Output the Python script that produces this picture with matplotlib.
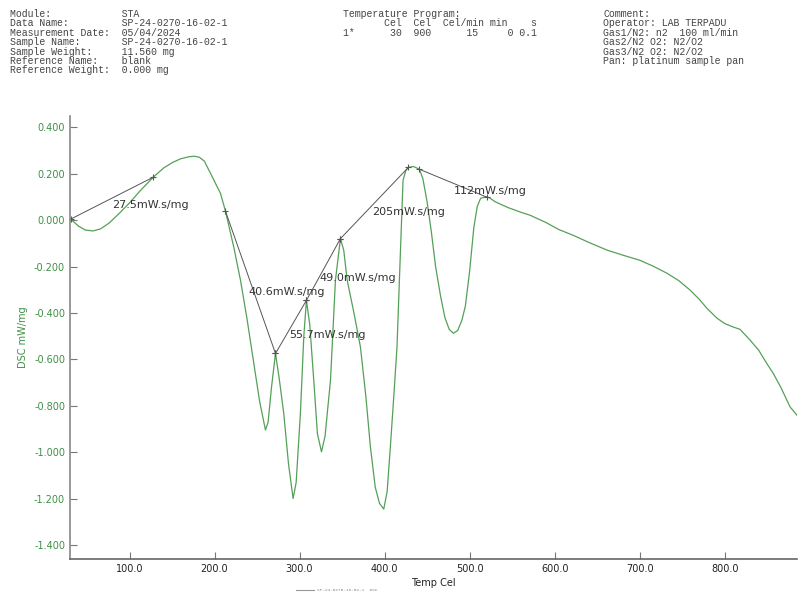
import matplotlib
matplotlib.use("Agg")
from matplotlib import pyplot as plt
from matplotlib.lines import Line2D

# DSC curve (Temp Cel, mW/mg)
temp = [30.8, 40, 48, 57, 66, 76, 88, 100, 112, 128, 140, 150, 160, 170, 176,
        182, 188, 195.6, 201, 207, 212.9, 222.6, 230.5, 238, 246.2, 253, 259.9,
        263, 267, 271.7, 276, 281.4, 287, 292.4, 296, 301, 305, 308.1, 312,
        316.7, 321, 325.8, 330, 336.4, 342.2, 348.1, 352, 356, 364, 371.6, 378,
        383.3, 389, 394, 399, 403, 406.8, 411, 414.6, 418, 421.7, 425, 428, 434,
        440.9, 445, 450, 455, 460, 466, 471, 476, 481, 486, 491, 495, 500, 505,
        509, 513, 518, 523, 530, 545, 560, 571, 590, 605, 622, 640, 662, 680,
        700, 716, 732, 746, 759, 770, 779, 791, 800, 810, 818, 830, 840, 850,
        857, 866, 877, 885]
dsc = [0.005, -0.025, -0.042, -0.046, -0.037, -0.012, 0.03, 0.075, 0.125, 0.186,
       0.225, 0.248, 0.265, 0.274, 0.276, 0.272, 0.255, 0.2, 0.16, 0.116, 0.039,
       -0.115, -0.258, -0.42, -0.617, -0.78, -0.904, -0.87, -0.72, -0.574,
       -0.68, -0.832, -1.05, -1.199, -1.13, -0.832, -0.5, -0.345, -0.45,
       -0.689, -0.92, -0.998, -0.93, -0.689, -0.258, -0.079, -0.13, -0.258,
       -0.4, -0.546, -0.76, -0.976, -1.15, -1.22, -1.245, -1.17, -0.976,
       -0.75, -0.546, -0.2, 0.172, 0.215, 0.228, 0.232, 0.22, 0.18, 0.08,
       -0.05, -0.2, -0.33, -0.42, -0.47, -0.487, -0.475, -0.43, -0.37, -0.22,
       -0.03, 0.06, 0.095, 0.1, 0.098, 0.08, 0.055, 0.035, 0.022, -0.01, -0.04,
       -0.065, -0.095, -0.129, -0.15, -0.172, -0.198, -0.228, -0.26, -0.3,
       -0.34, -0.379, -0.422, -0.445, -0.46, -0.47, -0.517, -0.56, -0.62,
       -0.659, -0.72, -0.805, -0.84]

# peak integration baselines and their area labels
base_x1 = [30.8, 212.9, 271.7, 308.1, 348.1, 440.9]
base_y1 = [0.005, 0.039, -0.574, -0.345, -0.079, 0.22]
base_x2 = [128, 271.7, 308.1, 348.1, 428, 520.8]
base_y2 = [0.186, -0.574, -0.345, -0.079, 0.228, 0.099]
areas = ["27.5mW.s/mg", "40.6mW.s/mg", "55.7mW.s/mg", "49.0mW.s/mg",
         "205mW.s/mg", "112mW.s/mg"]
label_x = [80, 240, 288, 323, 385, 481]
label_y = [0.065, -0.31, -0.495, -0.25, 0.034, 0.125]

yticks = [0.4, 0.2, 0.0, -0.2, -0.4, -0.6, -0.8, -1.0, -1.2, -1.4]
xticks = [100, 200, 300, 400, 500, 600, 700, 800]

left_info = ["Module:", "Data Name:", "Measurement Date:", "Sample Name:",
             "Sample Weight:", "Reference Name:", "Reference Weight:"]
left_vals = ["STA", "SP-24-0270-16-02-1", "05/04/2024", "SP-24-0270-16-02-1",
             "11.560 mg", "blank", "0.000 mg"]
mid_info = ["Temperature Program:",
            "       Cel  Cel  Cel/min min    s",
            "1*      30  900      15     0 0.1"]
right_info = ["Comment:", "Operator: LAB TERPADU", "Gas1/N2: n2  100 ml/min",
              "Gas2/N2 O2: N2/O2", "Gas3/N2 O2: N2/O2", "Pan: platinum sample pan"]

green = "#55a058"
ygreen = "#3f8f45"
gray = "#555555"

fig = plt.figure(figsize=(7.98, 5.94), dpi=100)
ax = fig.add_axes([0.0877, 0.0589, 0.911, 0.746])

ax.plot(temp, dsc, color=green, lw=0.9)
for i in range(len(areas)):
    ax.plot([base_x1[i], base_x2[i]], [base_y1[i], base_y2[i]], color=gray, lw=0.7,
            marker="+", ms=4, mew=0.8)
    ax.text(label_x[i], label_y[i], areas[i], fontsize=8, color="#333333",
            family="DejaVu Sans", va="center")

ax.set_xlim(30, 885)
ax.set_ylim(-1.46, 0.45)
ax.set_yticks(yticks)
ax.set_yticklabels(["%.3f" % v for v in yticks], fontsize=7)
ax.set_xticks(xticks)
ax.set_xticklabels(["%.1f" % v for v in xticks], fontsize=7)
ax.tick_params(axis="both", direction="in", length=5, width=0.8, colors="#777777")
for lab in ax.get_yticklabels():
    lab.set_color(ygreen)
for lab in ax.get_xticklabels():
    lab.set_color("#222222")
ax.spines["top"].set_visible(False)
ax.spines["right"].set_visible(False)
ax.spines["left"].set_color("#888888")
ax.spines["bottom"].set_color("#666666")
ax.spines["left"].set_linewidth(1.2)
ax.spines["bottom"].set_linewidth(1.2)
ax.set_xlabel("Temp Cel", fontsize=7, color="#222222", labelpad=3)
ax.set_ylabel("DSC mW/mg", fontsize=7, color=ygreen, labelpad=4)

# header block
mono = "Liberation Mono"
hs = 7.1
for i in range(len(left_info)):
    y = 1 - (14 + i * 9.4) / 594
    fig.text(10 / 798, y, left_info[i].ljust(19) + left_vals[i], family=mono,
             fontsize=hs, color="#444444", va="center")
for i in range(len(mid_info)):
    y = 1 - (14 + i * 9.5) / 594
    fig.text(343 / 798, y, mid_info[i], family=mono, fontsize=hs, color="#444444", va="center")
for i in range(len(right_info)):
    y = 1 - (14 + i * 9.4) / 594
    fig.text(603 / 798, y, right_info[i], family=mono, fontsize=hs, color="#444444", va="center")

# tiny legend under the axis title
fig.add_artist(Line2D([296 / 798, 314 / 798], [1 - 590 / 594, 1 - 590 / 594],
                      color="#999999", lw=0.8))
fig.text(317 / 798, 1 - 590 / 594, "SP-24-0270-16-02-1  DSC", fontsize=3.2,
         color="#888888", va="center", family=mono)

plt.savefig("out.png", dpi=100)
